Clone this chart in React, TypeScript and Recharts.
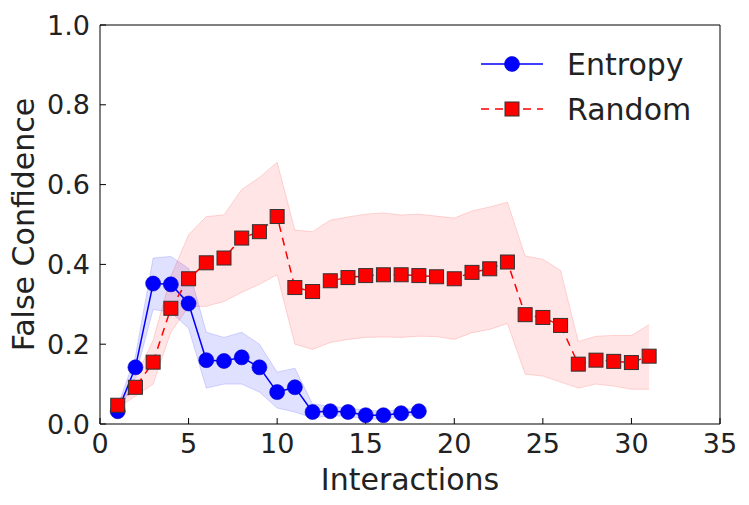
import React from 'react';
import { ComposedChart, Line, Area, XAxis, YAxis } from 'recharts';

// Interactions 1..18 (Entropy) and 1..31 (Random)
const entropyX = [1, 2, 3, 4, 5, 6, 7, 8, 9, 10, 11, 12, 13, 14, 15, 16, 17, 18];
const entropyMean = [0.032, 0.142, 0.352, 0.35, 0.302, 0.16, 0.158, 0.167, 0.142, 0.08, 0.092, 0.03, 0.032, 0.03, 0.022, 0.022, 0.027, 0.032];
const entropyLow = [0.02, 0.12, 0.287, 0.28, 0.24, 0.09, 0.1, 0.1, 0.08, 0.04, 0.03, 0.015, 0.02, 0.02, 0.012, 0.012, 0.018, 0.025];
const entropyHigh = [0.045, 0.17, 0.416, 0.42, 0.39, 0.23, 0.217, 0.23, 0.2, 0.13, 0.14, 0.05, 0.045, 0.04, 0.035, 0.032, 0.036, 0.04];

const randomX = [1, 2, 3, 4, 5, 6, 7, 8, 9, 10, 11, 12, 13, 14, 15, 16, 17, 18, 19, 20, 21, 22, 23, 24, 25, 26, 27, 28, 29, 30, 31];
const randomMean = [0.047, 0.092, 0.155, 0.29, 0.364, 0.404, 0.416, 0.466, 0.482, 0.52, 0.342, 0.332, 0.359, 0.367, 0.372, 0.374, 0.374, 0.372, 0.369, 0.364, 0.38, 0.389, 0.406, 0.274, 0.267, 0.247, 0.15, 0.16, 0.157, 0.154, 0.17];
const randomLow = [0.04, 0.07, 0.1, 0.23, 0.294, 0.295, 0.307, 0.33, 0.35, 0.374, 0.2, 0.187, 0.204, 0.212, 0.217, 0.218, 0.217, 0.22, 0.219, 0.212, 0.229, 0.237, 0.252, 0.125, 0.12, 0.105, 0.09, 0.1, 0.095, 0.087, 0.087];
const randomHigh = [0.055, 0.115, 0.21, 0.37, 0.474, 0.52, 0.524, 0.588, 0.618, 0.656, 0.486, 0.482, 0.511, 0.519, 0.526, 0.529, 0.524, 0.526, 0.521, 0.516, 0.534, 0.544, 0.556, 0.421, 0.413, 0.385, 0.207, 0.22, 0.222, 0.222, 0.249];

const xTicks = [0, 5, 10, 15, 20, 25, 30, 35];
const yTicks = [0, 0.2, 0.4, 0.6, 0.8, 1.0];

const entropyRows = entropyX.map((x, i) => ({
  x,
  mean: entropyMean[i],
  band: [entropyLow[i], entropyHigh[i]],
}));
const randomRows = randomX.map((x, i) => ({
  x,
  mean: randomMean[i],
  band: [randomLow[i], randomHigh[i]],
}));

const FONT = '"DejaVu Sans", sans-serif';
const TEXT = '#222';
const BLUE = '#0000ff';
const RED = '#ff0000';

const CircleDot = (props: any) => {
  const { cx, cy, index } = props;
  if (cx == null || cy == null) return <g key={`c${index}`} />;
  return <circle key={`c${index}`} cx={cx} cy={cy} r={7.5} fill={BLUE} stroke="#0000c0" strokeWidth={0.6} />;
};

const SquareDot = (props: any) => {
  const { cx, cy, index } = props;
  if (cx == null || cy == null) return <g key={`s${index}`} />;
  return <rect key={`s${index}`} x={cx - 7} y={cy - 7} width={14} height={14} fill={RED} stroke="#333" strokeWidth={1} />;
};

const tickStyle = { fontSize: 27, fontFamily: FONT, fill: TEXT };

const YLabel = (props: any) => {
  const vb = props.viewBox;
  const cx = vb.x + 34;
  const cy = vb.y + vb.height / 2;
  return (
    <text x={cx} y={cy} transform={`rotate(-90, ${cx}, ${cy})`} textAnchor="middle" fontSize={30} fontFamily={FONT} fill={TEXT}>
      False Confidence
    </text>
  );
};

const XLabel = (props: any) => {
  const vb = props.viewBox;
  return (
    <text x={vb.x + vb.width / 2} y={vb.y + 66} textAnchor="middle" fontSize={30} fontFamily={FONT} fill={TEXT}>
      Interactions
    </text>
  );
};

const ChartLegend = () => (
  <svg width={250} height={95} style={{ position: 'absolute', left: 470, top: 40 }}>
    <line x1={11} x2={73} y1={24} y2={24} stroke={BLUE} strokeWidth={1.5} />
    <circle cx={42} cy={24} r={7.5} fill={BLUE} stroke="#0000c0" strokeWidth={0.6} />
    <text x={97} y={35} fontSize={30} fontFamily={FONT} fill={TEXT}>Entropy</text>
    <line x1={11} x2={73} y1={69} y2={69} stroke={RED} strokeWidth={1.5} strokeDasharray="8 6" />
    <rect x={35} y={62} width={14} height={14} fill={RED} stroke="#333" strokeWidth={1} />
    <text x={97} y={80} fontSize={30} fontFamily={FONT} fill={TEXT}>Random</text>
  </svg>
);

export default function App() {
  return (
    <div style={{ position: 'absolute', left: 0, top: 0, width: 749, height: 505, background: '#fff' }}>
      <ComposedChart width={749} height={505} margin={{ top: 24, right: 28, bottom: 0, left: 0 }}>
        <XAxis
          xAxisId="bottom"
          dataKey="x"
          type="number"
          domain={[0, 35]}
          ticks={xTicks}
          allowDataOverflow
          height={81}
          stroke="#000"
          tickSize={-6}
          tickMargin={16}
          tick={tickStyle}
          label={<XLabel />}
        />
        <XAxis xAxisId="top" orientation="top" type="number" domain={[0, 35]} ticks={xTicks} height={1} stroke="#000" tickSize={-6} tick={false} />
        <YAxis
          yAxisId="left"
          type="number"
          domain={[0, 1]}
          ticks={yTicks}
          width={100}
          stroke="#000"
          tickSize={-6}
          tickMargin={16}
          tick={tickStyle}
          tickFormatter={(v: number) => v.toFixed(1)}
          label={<YLabel />}
        />
        <YAxis yAxisId="right" orientation="right" type="number" domain={[0, 1]} ticks={yTicks} width={1} stroke="#000" tickSize={-6} tick={false} />

        <Area
          xAxisId="bottom"
          yAxisId="left"
          data={entropyRows}
          dataKey="band"
          type="linear"
          fill={BLUE}
          fillOpacity={0.12}
          stroke={BLUE}
          strokeOpacity={0.15}
          strokeWidth={1}
          isAnimationActive={false}
          legendType="none"
        />
        <Area
          xAxisId="bottom"
          yAxisId="left"
          data={randomRows}
          dataKey="band"
          type="linear"
          fill={RED}
          fillOpacity={0.1}
          stroke={RED}
          strokeOpacity={0.15}
          strokeWidth={1}
          isAnimationActive={false}
          legendType="none"
        />
        <Line
          xAxisId="bottom"
          yAxisId="left"
          data={entropyRows}
          dataKey="mean"
          type="linear"
          stroke={BLUE}
          strokeWidth={1.5}
          dot={CircleDot}
          activeDot={false}
          isAnimationActive={false}
        />
        <Line
          xAxisId="bottom"
          yAxisId="left"
          data={randomRows}
          dataKey="mean"
          type="linear"
          stroke={RED}
          strokeWidth={1.5}
          strokeDasharray="8 6"
          dot={SquareDot}
          activeDot={false}
          isAnimationActive={false}
        />
      </ComposedChart>
      <ChartLegend />
    </div>
  );
}
